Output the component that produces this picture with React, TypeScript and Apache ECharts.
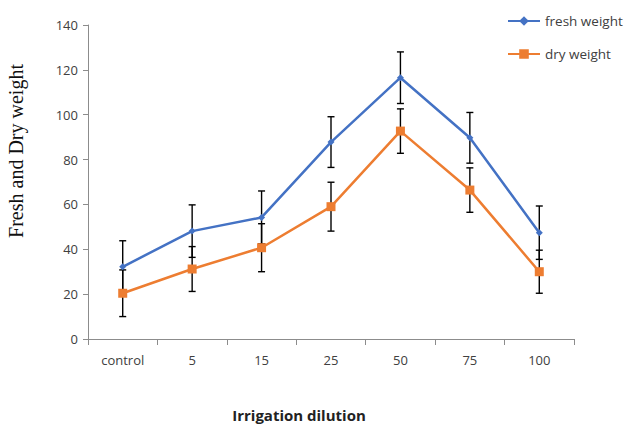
import React, { useEffect, useRef } from "react";
import * as echarts from "echarts";

const categories = ["control", "5", "15", "25", "50", "75", "100"];
const freshWeight = [32.2, 48.1, 54.2, 87.8, 116.5, 89.7, 47.4];
const dryWeight = [20.4, 31.2, 40.7, 59.0, 92.7, 66.4, 30.0];
const freshErr = [11.6, 11.7, 11.8, 11.3, 11.5, 11.3, 11.9];
const dryErr = [10.4, 10.0, 10.7, 10.9, 9.9, 9.9, 9.6];
const yTicks = { min: 0, max: 140, interval: 20 };

function errorSeries(name: string, values: number[], errs: number[]) {
  const data = values.map((v, i) => [i, v - errs[i], v + errs[i]]);
  return {
    type: "custom",
    name: name + " err",
    z: 1,
    silent: true,
    data,
    renderItem: (params: any, api: any) => {
      const x = api.value(0);
      const lo = api.coord([x, api.value(1)]);
      const hi = api.coord([x, api.value(2)]);
      const hw = 3.5;
      const style = { stroke: "#000", lineWidth: 1.4 };
      return {
        type: "group",
        children: [
          { type: "line", shape: { x1: lo[0], y1: lo[1], x2: hi[0], y2: hi[1] }, style },
          { type: "line", shape: { x1: lo[0] - hw, y1: lo[1], x2: lo[0] + hw, y2: lo[1] }, style },
          { type: "line", shape: { x1: hi[0] - hw, y1: hi[1], x2: hi[0] + hw, y2: hi[1] }, style },
        ],
      };
    },
  };
}

export default function App() {
  const ref = useRef<HTMLDivElement>(null);
  useEffect(() => {
    if (!ref.current) return;
    const chart = echarts.init(ref.current, null, { renderer: "svg" });
    const axisColor = "#8c8c8c";
    const labelColor = "#404040";
    chart.setOption({
      animation: false,
      backgroundColor: "#fff",
      grid: { left: 88, right: 57, top: 25, bottom: 86, outerBoundsMode: "none", containLabel: false },
      legend: {
        orient: "vertical",
        left: 507,
        top: 14,
        padding: 0,
        itemWidth: 32,
        itemHeight: 12,
        itemGap: 19,
        textStyle: { fontFamily: "Open Sans", fontSize: 13.5, color: labelColor },
        data: ["fresh weight", "dry weight"],
      },
      xAxis: {
        type: "category",
        data: categories,
        boundaryGap: true,
        axisLine: { lineStyle: { color: axisColor, width: 1 } },
        axisTick: { show: true, alignWithLabel: false, length: 6, lineStyle: { color: axisColor } },
        axisLabel: { color: labelColor, fontFamily: "Open Sans", fontSize: 13, margin: 14 },
        name: "Irrigation dilution",
        nameLocation: "middle",
        nameGap: 68,
        nameTextStyle: {
          fontFamily: "Open Sans",
          fontWeight: "bold",
          fontSize: 15,
          lineHeight: 16,
          color: "#222",
          padding: [0, 64, 0, 0],
        },
      },
      yAxis: {
        type: "value",
        min: yTicks.min,
        max: yTicks.max,
        interval: yTicks.interval,
        splitLine: { show: false },
        axisLine: { show: true, lineStyle: { color: axisColor, width: 1 } },
        axisTick: { show: true, length: 5, lineStyle: { color: axisColor } },
        axisLabel: { color: labelColor, fontFamily: "Open Sans", fontSize: 13, margin: 10 },
        name: "Fresh and Dry weight",
        nameLocation: "middle",
        nameGap: 62,
        nameRotate: 90,
        nameTextStyle: {
          fontFamily: "Liberation Serif",
          fontSize: 20,
          color: "#111",
          padding: [0, 0, 0, 62],
        },
      },
      series: [
        errorSeries("fresh weight", freshWeight, freshErr),
        errorSeries("dry weight", dryWeight, dryErr),
        {
          type: "line",
          name: "fresh weight",
          data: freshWeight,
          z: 3,
          symbol: "diamond",
          symbolSize: 7,
          color: "#4472C4",
          lineStyle: { width: 2.5, color: "#4472C4" },
          itemStyle: { color: "#4472C4" },
        },
        {
          type: "line",
          name: "dry weight",
          data: dryWeight,
          z: 2,
          symbol: "rect",
          symbolSize: 9,
          color: "#ED7D31",
          lineStyle: { width: 2.5, color: "#ED7D31" },
          itemStyle: { color: "#ED7D31" },
        },
      ],
    });
    return () => chart.dispose();
  }, []);
  return (
    <div
      ref={ref}
      style={{ position: "absolute", left: 0, top: 0, width: 631, height: 425 }}
    />
  );
}
